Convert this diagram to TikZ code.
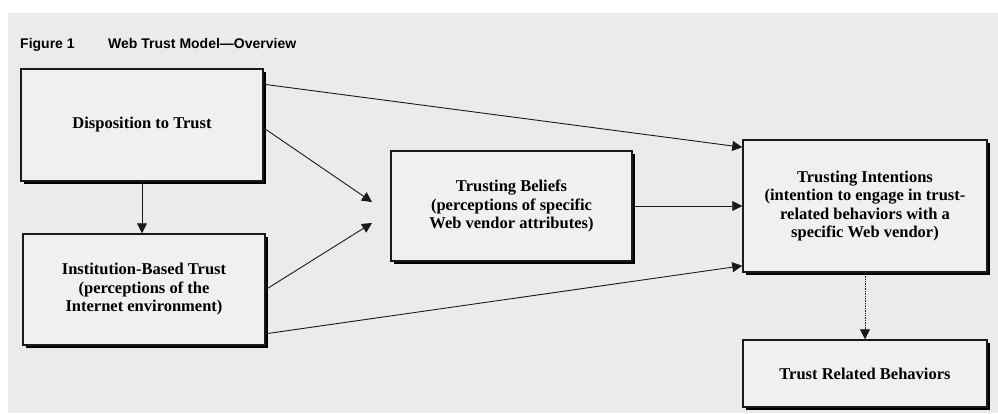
\documentclass[tikz,border=0pt]{standalone}
\usepackage{fontspec}
\setmainfont{Liberation Serif}
\newfontfamily\ttlfont{Liberation Sans}
\usetikzlibrary{arrows.meta,positioning,calc,shadows}
\definecolor{papergray}{HTML}{EBEBEB}
\definecolor{boxgray}{HTML}{F0F0F0}
\definecolor{inkblack}{HTML}{1A1A1A}
\tikzset{
  >={Triangle[length=10pt,width=10pt]},
  % boxes
  bx/.style={rectangle,draw=inkblack,fill=boxgray,line width=1.5pt,align=center,
             inner sep=2pt,font=\bfseries\fontsize{16.5}{18.5}\selectfont,
             drop shadow={shadow xshift=3pt,shadow yshift=-3pt,fill=black,opacity=1}},
  % arrows
  fa/.style={->,draw=inkblack,line width=0.9pt},
  fd/.style={->,draw=inkblack,line width=0.7pt,densely dotted},
  ttl/.style={anchor=base west,inner sep=0pt,font=\ttlfont\bfseries\fontsize{14}{16}\selectfont},
}
\begin{document}
\begin{tikzpicture}[x=1pt,y=-1pt]
  \useasboundingbox (0,0) rectangle (998,413);
  \fill[papergray] (8,13) rectangle (998,413);
  \node[ttl] (fig) at (20,48) {Figure 1};
  \node[ttl] (ttl) at (108,48) {Web Trust Model\textemdash Overview};
  \node[bx,minimum width=242pt,minimum height=112pt] (disp) at (142,125) {Disposition to Trust};
  \node[bx,minimum width=242pt,minimum height=111pt] (inst) at (144,289.5)
    {Institution-Based Trust\\(perceptions of the\\Internet environment)};
  \node[bx,minimum width=241pt,minimum height=110pt] (tb) at (511.5,206)
    {Trusting Beliefs\\(perceptions of specific\\Web vendor attributes)};
  \node[bx,minimum width=244pt,minimum height=132pt] (ti) at (865,206)
    {Trusting Intentions\\(intention to engage in trust-\\related behaviors with a\\specific Web vendor)};
  \node[bx,minimum width=244pt,minimum height=67pt] (trb) at (865,373.5) {Trust Related Behaviors};
  \coordinate (m1) at (372,202);
  \coordinate (m2) at (372,223);
  \draw[fa] (disp.south) -- (disp.south |- inst.north);
  \draw[fa] ([yshift=-3pt]disp.east) -- (m1);
  \draw[fa] (inst.east) -- (m2);
  \draw[fa] ([yshift=-16pt]disp.north east) -- ([yshift=-8pt]ti.north west);
  \draw[fa] ([yshift=12pt]inst.south east) -- ([yshift=7pt]ti.south west);
  \draw[fa] (tb.east) -- (ti.west);
  \draw[fd] ([yshift=-3pt]ti.south) -- (trb.north);
\end{tikzpicture}
\end{document}
